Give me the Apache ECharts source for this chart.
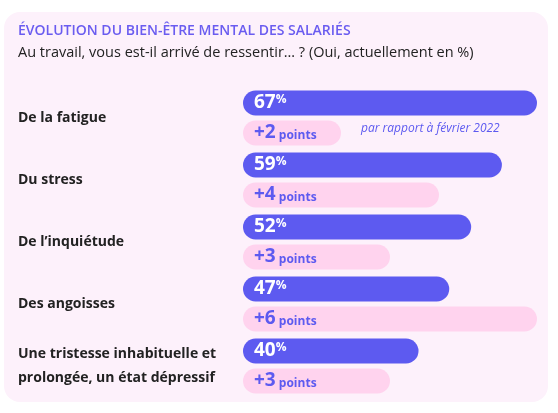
<!DOCTYPE html>
<html>
<head>
<meta charset="utf-8">
<script src="https://cdn.jsdelivr.net/npm/echarts@6/dist/echarts.min.js"></script>
<style>html,body{margin:0;padding:0;background:#fff}#main{width:558px;height:413px}</style>
</head>
<body>
<div id="main"></div>
<script>
let categories = ['De la fatigue', 'Du stress', 'De l\u2019inqui\u00e9tude', 'Des angoisses', 'Une tristesse inhabituelle et\nprolong\u00e9e, un \u00e9tat d\u00e9pressif'];
let current = [67, 59, 52, 47, 40];
let change = [2, 4, 3, 6, 3];

let purple = '#5d5af0';
let pink = '#ffd3ee';
let font = '"Open Sans"';

let chart = echarts.init(document.getElementById('main'));

let option = {
    animation: false,
    textStyle: {fontFamily: font},
    graphic: [
        {type: 'rect', z: -10, shape: {x: 4, y: 12, width: 544, height: 390, r: 16}, style: {fill: '#fdf1fb'}},
        {type: 'text', left: 18, top: 24, style: {text: '\u00c9VOLUTION DU BIEN-\u00caTRE MENTAL DES SALARI\u00c9S', fill: '#6a5cf0', font: '600 14px ' + font}},
        {type: 'text', left: 18, top: 45, style: {text: 'Au travail, vous est-il arriv\u00e9 de ressentir\u2026 ? (Oui, actuellement en %)', fill: '#222', font: '14.5px ' + font}},
        {type: 'text', left: 361, top: 123, style: {text: 'par rapport \u00e0 f\u00e9vrier 2022', fill: purple, font: 'italic 12px ' + font}}
    ],
    grid: {left: 243, right: 21, top: 87, bottom: 16},
    xAxis: [
        {type: 'value', min: 0, max: 67, show: false},
        {type: 'value', min: 0, max: 6, show: false}
    ],
    yAxis: {
        type: 'category',
        data: categories,
        inverse: true,
        axisLine: {show: false},
        axisTick: {show: false},
        axisLabel: {
            align: 'left',
            margin: 225,
            color: '#222',
            fontWeight: 'bold',
            fontSize: 14,
            lineHeight: 24
        }
    },
    series: [
        {
            type: 'bar',
            xAxisIndex: 0,
            data: current,
            barWidth: 25,
            barGap: '20%',
            itemStyle: {color: purple, borderRadius: 13},
            label: {
                show: true,
                position: 'insideLeft',
                offset: [6, 0],
                formatter: '{n|{c}}{p|%}',
                rich: {
                    n: {color: '#fff', fontSize: 19, fontWeight: 'bold', fontFamily: font},
                    p: {color: '#fff', fontSize: 12, fontWeight: 'bold', fontFamily: font, verticalAlign: 'top', padding: [0, 0, 6, 0]}
                }
            }
        },
        {
            type: 'bar',
            xAxisIndex: 1,
            data: change,
            barWidth: 25,
            itemStyle: {color: pink, borderRadius: 13},
            label: {
                show: true,
                position: 'insideLeft',
                offset: [6, 0],
                formatter: '{n|+{c}} {p|points}',
                rich: {
                    n: {color: purple, fontSize: 19, fontWeight: 'bold', fontFamily: font},
                    p: {color: purple, fontSize: 12, fontWeight: 'bold', fontFamily: font, padding: [5, 0, 0, 0]}
                }
            }
        }
    ]
};

chart.setOption(option);
</script>
</body>
</html>
